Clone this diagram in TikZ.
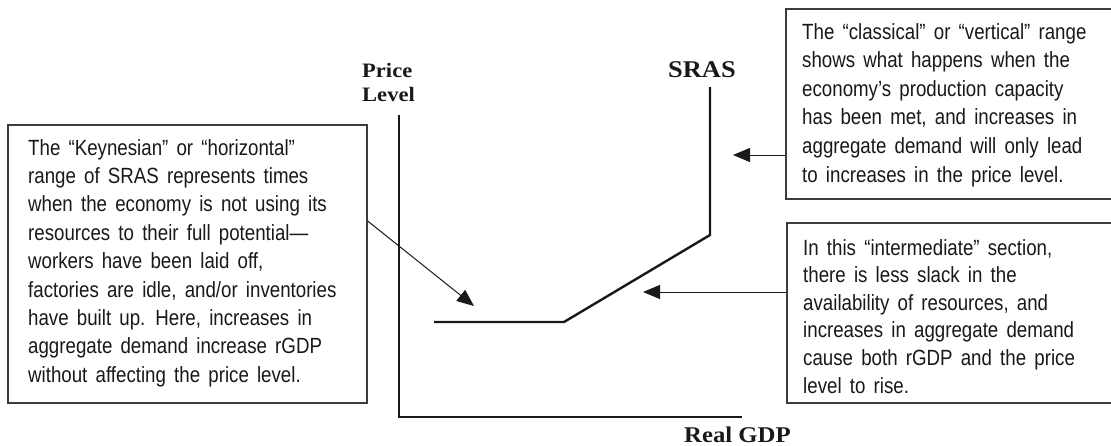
\documentclass[tikz,border=0pt]{standalone}
\usepackage{fontspec}
\usetikzlibrary{arrows.meta,calc}
\newfontfamily\boxfont[FakeStretch=0.85]{Liberation Sans}
\newfontfamily\labfont[FakeStretch=1.1]{Liberation Serif}
\definecolor{ink}{RGB}{25,25,25}
\definecolor{frame}{RGB}{60,60,60}
\newcommand\Lx[1]{\mbox{\spaceskip=8.2pt\relax #1}}
\tikzset{
  notebox/.style={draw=frame, line width=1.3pt, inner sep=0pt},
  notetext/.style={align=left, text=ink, inner sep=0pt, anchor=north west,
    font={\fontsize{22}{28.4}\selectfont\boxfont}},
  axis/.style={line width=1.1pt, draw=ink},
  curve/.style={line width=2.4pt, draw=ink},
  pointer/.style={line width=1pt, draw=ink, -{Triangle[length=17pt,width=14pt]}},
  lab/.style={text=ink, inner sep=0pt}
}
\begin{document}
\begin{tikzpicture}[x=1pt,y=-1pt]
\useasboundingbox (0,0) rectangle (1111,445);
\clip (0,0) rectangle (1111,445);
\fill[white] (0,0) rectangle (1111,445);

% axes
\coordinate (ytop) at (399,115);
\coordinate (orig) at (399,417);
\coordinate (xend) at (742,417);
\draw[axis] (ytop) -- (orig) -- (xend);

% SRAS curve
\coordinate (s0) at (434,322);
\coordinate (s1) at (564,322);
\coordinate (s2) at (710,235);
\coordinate (s3) at (710,87);
\draw[curve, line join=miter] (s0) -- (s1) -- (s2) -- (s3);

% labels
\node[lab, anchor=north west, align=left, font={\fontsize{20.5}{24.5}\selectfont\labfont\bfseries}] (pl) at (362,63) {Price\\Level};
\node[lab, anchor=base west, font={\fontsize{24}{28}\selectfont\labfont\bfseries}] (sras) at (668,77) {SRAS};
\node[lab, anchor=base west, font={\fontsize{22.5}{27}\selectfont\labfont\bfseries}] (rgdp) at (684,442) {Real GDP};

% boxes
\node[notebox, minimum width=359pt, minimum height=278pt] (keynes) at (187.5,264) {};
\node[notebox, minimum width=339pt, minimum height=190pt] (classic) at (955.5,104) {};
\node[notebox, minimum width=338pt, minimum height=180pt] (inter) at (956,313) {};

\node[notetext] (keynesT) at (28,139)
{\Lx{The “Keynesian” or “horizontal”}\\
\Lx{range of SRAS represents times}\\
\Lx{when the economy is not using its}\\
\Lx{resources to their full potential—}\\
\Lx{workers have been laid off,}\\
\Lx{factories are idle, and/or inventories}\\
\Lx{have built up. Here, increases in}\\
\Lx{aggregate demand increase rGDP}\\
\Lx{without affecting the price level.}};

\node[notetext, font={\fontsize{22}{28.6}\selectfont\boxfont}] (classicT) at (802,23)
{\Lx{The “classical” or “vertical” range}\\
\Lx{shows what happens when the}\\
\Lx{economy’s production capacity}\\
\Lx{has been met, and increases in}\\
\Lx{aggregate demand will only lead}\\
\Lx{to increases in the price level.}};

\node[notetext, font={\fontsize{22}{27.6}\selectfont\boxfont}] (interT) at (803,239)
{\Lx{In this “intermediate” section,}\\
\Lx{there is less slack in the}\\
\Lx{availability of resources, and}\\
\Lx{increases in aggregate demand}\\
\Lx{cause both rGDP and the price}\\
\Lx{level to rise.}};

% pointers
\coordinate (kStart) at (367,221);
\coordinate (kTip) at (474,306);
\coordinate (cTip) at (733,155);
\coordinate (iTip) at (643,292);
\draw[pointer] (keynes.east |- kStart) -- (kTip);
\draw[pointer] (classic.west |- cTip) -- (cTip);
\draw[pointer] (inter.west |- iTip) -- (iTip);
\end{tikzpicture}
\end{document}
